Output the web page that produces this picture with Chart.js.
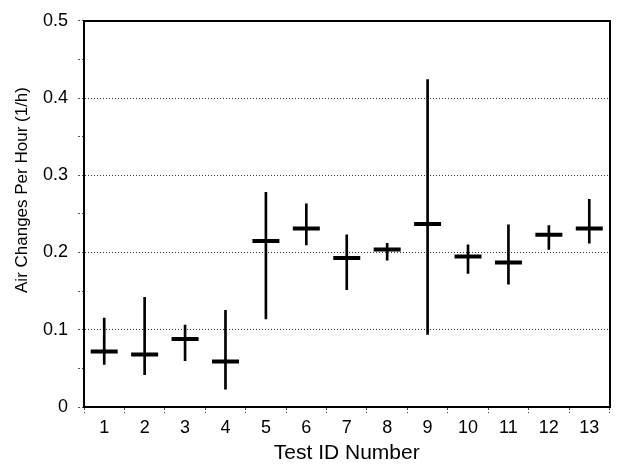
<!DOCTYPE html>
<html>
<head>
<meta charset="utf-8">
<script src="https://cdn.jsdelivr.net/npm/chart.js@4/dist/chart.umd.min.js"></script>
<style>
  html, body { margin: 0; padding: 0; background: #fff; }
  #wrap { width: 627px; height: 466px; }
</style>
</head>
<body>
<div id="wrap"><canvas id="c" width="627" height="466"></canvas></div>
<script>
// test ids and air change rates (1/h)
const testIds = ['1','2','3','4','5','6','7','8','9','10','11','12','13'];
const meanAch = [0.072, 0.068, 0.088, 0.059, 0.215, 0.231, 0.193, 0.204, 0.237, 0.195, 0.187, 0.223, 0.231];
const lowAch  = [0.055, 0.042, 0.060, 0.023, 0.114, 0.210, 0.152, 0.190, 0.094, 0.173, 0.159, 0.204, 0.212];
const highAch = [0.115, 0.142, 0.106, 0.125, 0.278, 0.263, 0.223, 0.212, 0.424, 0.210, 0.236, 0.235, 0.269];
const yTicks  = [0, 0.1, 0.2, 0.3, 0.4, 0.5];

const font = 'Liberation Sans, Arial, sans-serif';
Chart.defaults.font.family = font;
Chart.defaults.color = '#000';

const ranges = lowAch.map((lo, i) => [lo, highAch[i]]);

// y title sits a bit above the plot centre in the original
const yTitle = {
    id: 'yTitle',
    afterDraw(chart) {
        const ctx = chart.ctx;
        ctx.save();
        ctx.translate(22, 190);
        ctx.rotate(-Math.PI / 2);
        ctx.font = '17px ' + font;
        ctx.fillStyle = '#000';
        ctx.textAlign = 'center';
        ctx.textBaseline = 'middle';
        ctx.fillText('Air Changes Per Hour (1/h)', 0, 0);
        ctx.restore();
    }
};

new Chart(document.getElementById('c'), {
    type: 'bar',
    data: {
        labels: testIds,
        datasets: [
            {
                type: 'line',
                label: 'Mean',
                data: meanAch,
                showLine: false,
                pointStyle: 'line',
                pointRadius: 13.5,
                pointBorderWidth: 4,
                pointBorderColor: '#000',
                pointBackgroundColor: '#000',
                order: 0
            },
            {
                label: 'Range',
                data: ranges,
                backgroundColor: '#000',
                borderWidth: 0,
                barThickness: 2,
                order: 1
            }
        ]
    },
    options: {
        responsive: false,
        animation: false,
        layout: { padding: { top: 17, right: 1, left: 0, bottom: 0 } },
        plugins: {
            legend: { display: false },
            tooltip: { enabled: false }
        },
        scales: {
            x: {
                offset: true,
                grid: {
                    offset: true,
                    drawOnChartArea: false,
                    tickLength: 6,
                    tickColor: '#444',
                    tickBorderDash: [2, 2]
                },
                border: { color: '#000', width: 2 },
                ticks: { font: { size: 18 }, padding: 4, maxRotation: 0 },
                title: {
                    display: true,
                    text: 'Test ID Number',
                    font: { size: 21 },
                    padding: { top: 0, bottom: 0 }
                },
                afterFit: s => { s.height = 59; }
            },
            x2: {
                position: 'top',
                offset: true,
                grid: { drawOnChartArea: false, drawTicks: false },
                border: { color: '#000', width: 2 },
                ticks: { display: false },
                afterFit: s => { s.height = 0; }
            },
            y: {
                min: 0,
                max: 0.5,
                ticks: {
                    stepSize: 0.05,
                    font: { size: 18 },
                    padding: 10,
                    callback: (v) => {
                        const t = yTicks.find(k => Math.abs(k - v) < 1e-6);
                        return t === undefined ? '' : String(t);
                    }
                },
                grid: {
                    color: ctx => {
                        const v = ctx.tick ? ctx.tick.value : 0;
                        const major = yTicks.some(k => Math.abs(k - v) < 1e-6);
                        return (major && v > 0 && v < 0.5) ? '#333' : 'rgba(0,0,0,0)';
                    },
                    tickColor: '#555',
                    tickLength: 6,
                    tickBorderDash: [2, 2]
                },
                border: { color: '#000', width: 2, dash: [1, 2] },
                title: { display: false },
                afterFit: s => { s.width = 84; }
            },
            y2: {
                position: 'right',
                min: 0,
                max: 0.5,
                grid: { drawOnChartArea: false, drawTicks: false },
                border: { color: '#000', width: 2 },
                ticks: { display: false },
                afterFit: s => { s.width = 0; }
            }
        }
    },
    plugins: [yTitle]
});
</script>
</body>
</html>
